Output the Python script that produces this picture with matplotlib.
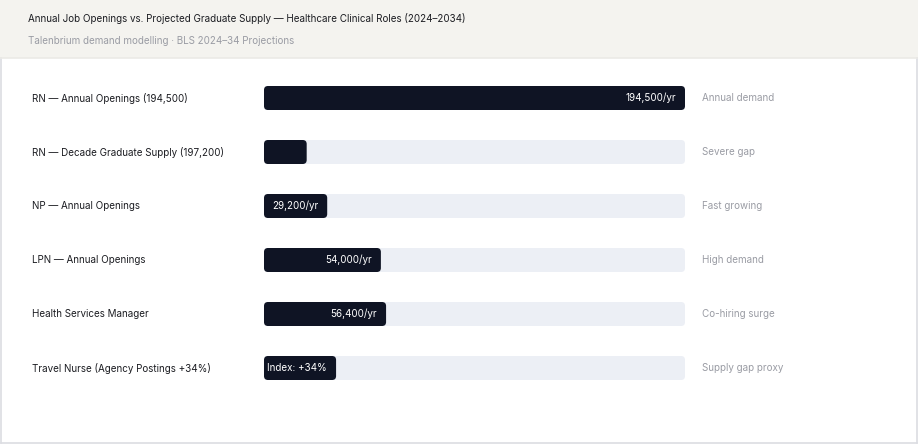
import matplotlib
matplotlib.use("Agg")
import matplotlib.pyplot as plt
from matplotlib.patches import FancyBboxPatch, Rectangle
from matplotlib.lines import Line2D
import matplotlib.transforms as mtransforms

plt.rcParams['font.family'] = ['Inter', 'DejaVu Sans']

title = "Annual Job Openings vs. Projected Graduate Supply \u2014 Healthcare Clinical Roles (2024\u20132034)"
subtitle = "Talenbrium demand modelling \u00b7 BLS 2024\u201334 Projections"

categories = [
    "RN \u2014 Annual Openings (194,500)",
    "RN \u2014 Decade Graduate Supply (197,200)",
    "NP \u2014 Annual Openings",
    "LPN \u2014 Annual Openings",
    "Health Services Manager",
    "Travel Nurse (Agency Postings +34%)",
]
values = [194500, 19720, 29200, 54000, 56400, 33300]
value_labels = ["194,500/yr", "", "29,200/yr", "54,000/yr", "56,400/yr", "Index: +34%"]
notes = ["Annual demand", "Severe gap", "Fast growing", "High demand", "Co-hiring surge", "Supply gap proxy"]
scale_max = 194500

W, H = 918, 444
FS = 7.1
fig = plt.figure(figsize=(W / 100, H / 100), dpi=100)
fig.patch.set_facecolor("white")

def px(x0, y0, w, h):
    return [x0 / W, 1 - (y0 + h) / H, w / W, h / H]

def fx(x):
    return x / W

def fy(y):
    return 1 - y / H

# header band and card border
fig.patches.append(Rectangle((0, fy(58)), 1, 58 / H, transform=fig.transFigure,
                             facecolor="#f4f3ef", edgecolor="none", zorder=0))
border = "#dcdde2"
for xs, ys, c in [([fx(0.8), fx(0.8)], [fy(58), fy(443.2)], border),
                  ([fx(916.8), fx(916.8)], [fy(58), fy(443.2)], border),
                  ([fx(0.8), fx(916.8)], [fy(443.2), fy(443.2)], border),
                  ([0, fx(917)], [fy(58), fy(58)], "#ebeae6")]:
    fig.lines.append(Line2D(xs, ys, transform=fig.transFigure, color=c, linewidth=1.2))

fig.text(fx(28), fy(19), title, fontsize=FS, color="#1c1d22", va="center", ha="left")
fig.text(fx(28), fy(41), subtitle, fontsize=FS, color="#9a9ca4", va="center", ha="left")

ax = fig.add_axes(px(264, 71, 421, 324))
ax.set_xlim(0, scale_max)
ax.set_ylim(len(categories) - 0.5, -0.5)
ax.axis("off")

bar_h = 24 / 54
xunit_per_px = scale_max / 421
yunit_per_px = 1 / 54
r = 4 * xunit_per_px
aspect = yunit_per_px / xunit_per_px

tl = mtransforms.blended_transform_factory(fig.transFigure, ax.transData)
off = mtransforms.offset_copy(ax.transData, fig=fig, x=-9 * 0.72, y=0, units="points")

for i, (cat, v, lab, note) in enumerate(zip(categories, values, value_labels, notes)):
    track = FancyBboxPatch((0, i - bar_h / 2), scale_max, bar_h,
                           boxstyle=f"round,pad=0,rounding_size={r}",
                           mutation_aspect=aspect, facecolor="#eceff5", edgecolor="none")
    ax.add_patch(track)
    bar = FancyBboxPatch((0, i - bar_h / 2), v, bar_h,
                         boxstyle=f"round,pad=0,rounding_size={r}",
                         mutation_aspect=aspect, facecolor="#0f1424", edgecolor="none")
    ax.add_patch(bar)
    if lab:
        ax.text(v, i, lab, transform=off, ha="right", va="center", fontsize=FS, color="white")
    ax.text(fx(32), i, cat, transform=tl, ha="left", va="center", fontsize=FS, color="#1c1d22")
    ax.text(fx(702), i, note, transform=tl, ha="left", va="center", fontsize=FS, color="#9a9ca4")

fig.savefig("out.png", dpi=100)
